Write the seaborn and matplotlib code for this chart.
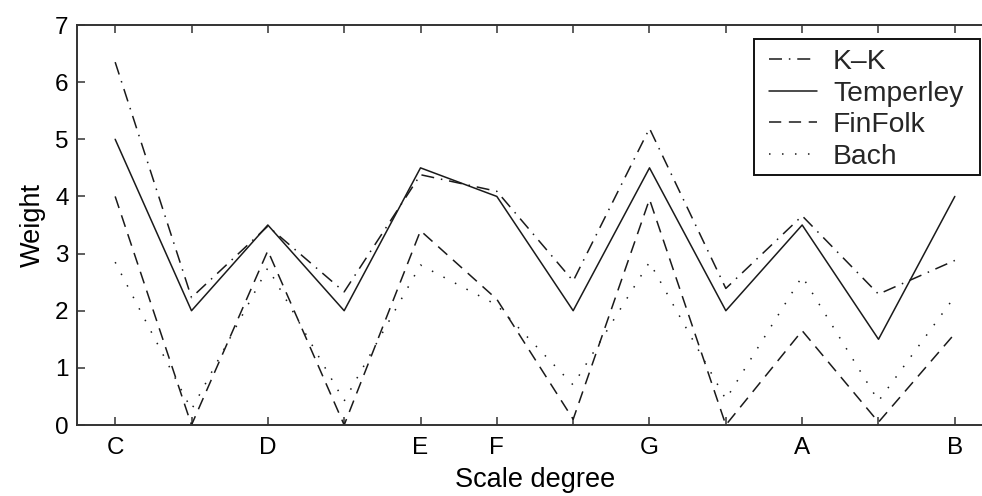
import matplotlib
matplotlib.use("Agg")
import matplotlib.pyplot as plt
import matplotlib.patches as mpatches
import seaborn as sns
import pandas as pd
import numpy as np

# ---- data ----
degrees = ["C", "C#", "D", "D#", "E", "F", "F#", "G", "G#", "A", "A#", "B"]
tick_labels = ["C", "", "D", "", "E", "F", "", "G", "", "A", "", "B"]
profiles = ["K\u2013K", "Temperley", "FinFolk", "Bach"]
kk = [6.35, 2.23, 3.48, 2.33, 4.38, 4.09, 2.52, 5.19, 2.39, 3.66, 2.29, 2.88]
temperley = [5.0, 2.0, 3.5, 2.0, 4.5, 4.0, 2.0, 4.5, 2.0, 3.5, 1.5, 4.0]
finfolk = [4.0, 0.0, 3.05, 0.0, 3.4, 2.2, 0.1, 3.95, 0.0, 1.65, 0.05, 1.6]
bach = [2.85, 0.27, 2.75, 0.42, 2.8, 2.1, 0.7, 2.85, 0.45, 2.6, 0.42, 2.25]

series = [kk, temperley, finfolk, bach]
rows = []
for name, vals in zip(profiles, series):
    for i, v in enumerate(vals):
        rows.append({"pos": i, "weight": v, "profile": name})
df = pd.DataFrame(rows)

sns.set_theme(style="ticks")
plt.rcParams["font.family"] = ["Liberation Sans", "DejaVu Sans"]

W, H = 982, 496
fig = plt.figure(figsize=(W / 100, H / 100), dpi=100)
ax = fig.add_axes([77 / W, 71 / H, (993 - 77) / W, 400 / H])

lw = 1.1
dashes = {
    profiles[0]: (8.5, 4.5, 1.0, 4.5),
    profiles[1]: "",
    profiles[2]: (8.0, 5.0),
    profiles[3]: (1.0, 7.5),
}
palette = {p: "#1a1a1a" for p in profiles}
sns.lineplot(data=df, x="pos", y="weight", hue="profile", style="profile",
             hue_order=profiles, style_order=profiles, palette=palette,
             dashes=dashes, linewidth=lw, legend=False, ax=ax, sort=False)

ax.set_xlim(-0.5, 11.5)
ax.set_ylim(0, 7)
ax.set_xticks(range(len(degrees)))
ax.set_xticklabels(tick_labels)
ax.set_yticks(range(0, 8))

for s in ax.spines.values():
    s.set_color("#333333")
    s.set_linewidth(1.4)
    s.set_visible(True)

ax.tick_params(axis="both", direction="in", length=6, width=1.1, color="#333333",
               labelsize=17.5, labelcolor="black", top=True, right=True)
ax.tick_params(axis="x", pad=8.5)
ax.tick_params(axis="y", pad=6)

ax.set_xlabel("Scale degree", fontsize=19.5, color="black")
ax.set_ylabel("Weight", fontsize=19.5, color="black")
ax.xaxis.set_label_coords(0.5, -0.105)
ax.yaxis.set_label_coords(-0.034, 0.5)

# legend frame (fixed box) and legend contents
box_l, box_t, box_r, box_b = 754, 39, 980, 175
frame = mpatches.Rectangle((box_l / W, 1 - box_b / H), (box_r - box_l) / W,
                           (box_b - box_t) / H, transform=fig.transFigure,
                           facecolor="white", edgecolor="#111111", linewidth=1.4,
                           zorder=4, clip_on=False)
ax.add_patch(frame)

handles = ax.get_lines()[:4]
leg = ax.legend(handles, profiles, loc="upper left",
                bbox_to_anchor=(769 / W, 1 - 49 / H),
                bbox_transform=fig.transFigure, borderaxespad=0,
                fontsize=20.3, frameon=False, handlelength=1.7,
                handletextpad=0.57, borderpad=0.0, labelspacing=0.2)
leg.set_zorder(5)

fig.savefig("out.png", dpi=100)
